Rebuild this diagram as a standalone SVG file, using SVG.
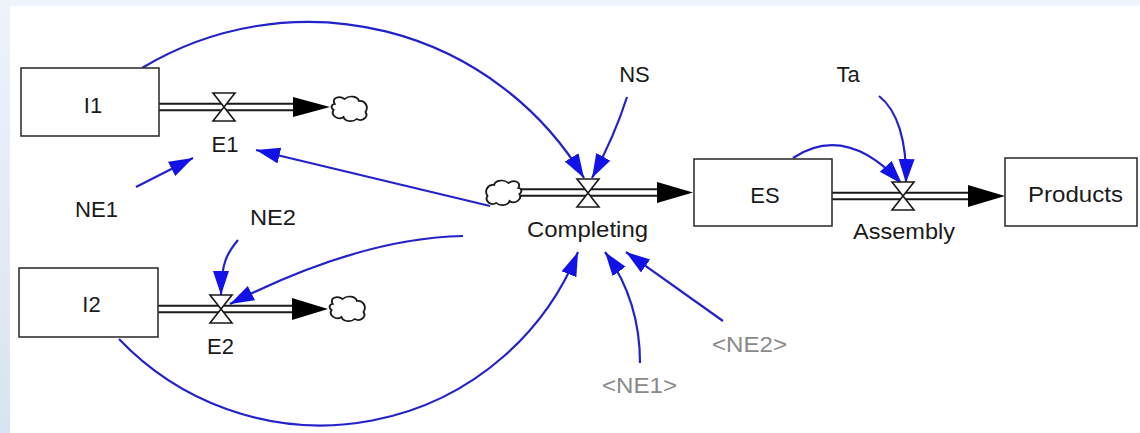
<svg xmlns="http://www.w3.org/2000/svg" width="1140" height="433" viewBox="0 0 1140 433">
  <defs>
    <style>
      .lbl { font-family: "Liberation Sans", Arial, sans-serif; font-size: 22px; fill: #1a1a1a; text-anchor: middle; }
      .shadow { fill: #8a8a8a; }
      .stock { fill: #ffffff; stroke: #333333; stroke-width: 1.6; }
      .pipe-out { fill: none; stroke: #1a1a1a; stroke-width: 8.5; }
      .pipe-in { fill: none; stroke: #ffffff; stroke-width: 4.5; }
      .valve { fill: #ffffff; stroke: #1a1a1a; stroke-width: 1.6; stroke-linejoin: miter; }
      .flowhead { fill: #000000; }
      .cloud { fill: #ffffff; stroke: #1a1a1a; stroke-width: 1.7; }
      .link { fill: none; stroke: #2222cc; stroke-width: 2.2; marker-end: url(#linkhead); }
    </style>
    <linearGradient id="edge" x1="0" y1="0" x2="0" y2="1">
      <stop offset="0" stop-color="#eef3fb"/>
      <stop offset="1" stop-color="#d9e3f1"/>
    </linearGradient>
    <marker id="linkhead" markerUnits="userSpaceOnUse" markerWidth="26" markerHeight="18" refX="24" refY="8" orient="auto">
      <path d="M0,0 L24,8 L0,16 Z" fill="#1212e8"/>
    </marker>
    <path id="valveShape" d="M-11,-14 L11,-14 L-11,14 L11,14 Z"/>
    <path id="cloudShape" d="M-13,-5 C-16,-11 -9,-14 -4,-10 C0,-14 8,-13 9,-8 C15,-9 18,-2 15,3 C18,8 12,13 7,10 C3,14 -4,12 -5,8 C-10,12 -17,6 -14,1 C-17,-1 -16,-5 -13,-5 Z"/>
  </defs>

  <!-- page background with pale frame strips -->
  <rect x="0" y="0" width="1140" height="433" fill="#ffffff"/>
  <rect x="0" y="0" width="1140" height="6" fill="#f0f4fc"/>
  <rect x="0" y="0" width="10" height="433" fill="url(#edge)"/>

  <!-- information links -->
  <g id="connectors">
    <path class="link" d="M142,68 A322,322 0 0,1 584,178"/>
    <path class="link" d="M627,97 Q615,135 592,178"/>
    <path class="link" d="M119,339 A278,278 0 0,0 578,252"/>
    <path class="link" d="M640,363 Q640,300 605,252"/>
    <path class="link" d="M723,321 L626,252"/>
    <path class="link" d="M136,187 L193,158"/>
    <path class="link" d="M490,206 L256,150"/>
    <path class="link" d="M463,236 Q360,238 230,304"/>
    <path class="link" d="M238,240 C228,252 221,262 221,295"/>
    <path class="link" d="M879,96 C897,110 907,140 906,183"/>
    <path class="link" d="M793,158 Q846,123 902,184"/>
  </g>

  <!-- flow E1: I1 to sink -->
  <g id="flow-E1">
    <path class="pipe-out" d="M159,107 L296,107"/>
    <path class="pipe-in" d="M159,107 L296,107"/>
    <polygon class="flowhead" points="293,97 330,107 293,117"/>
    <use href="#cloudShape" class="cloud" transform="translate(349,109) scale(1.1,1)"/>
    <use href="#valveShape" class="valve" transform="translate(224,107)"/>
    <text class="lbl" x="225" y="152">E1</text>
  </g>

  <!-- flow E2: I2 to sink -->
  <g id="flow-E2">
    <path class="pipe-out" d="M158,309 L295,309"/>
    <path class="pipe-in" d="M158,309 L295,309"/>
    <polygon class="flowhead" points="292,298 328,309 292,320"/>
    <use href="#cloudShape" class="cloud" transform="translate(347,309) scale(1.1,1)"/>
    <use href="#valveShape" class="valve" transform="translate(221,309)"/>
    <text class="lbl" x="220.5" y="354">E2</text>
  </g>

  <!-- flow Completing: source to ES -->
  <g id="flow-Completing">
    <path class="pipe-out" d="M520,192.5 L660,192.5"/>
    <path class="pipe-in" d="M520,192.5 L660,192.5"/>
    <polygon class="flowhead" points="657,182 693,192.5 657,203"/>
    <use href="#cloudShape" class="cloud" transform="translate(504,193) scale(-1.1,1)"/>
    <use href="#valveShape" class="valve" transform="translate(588,193)"/>
    <text class="lbl" x="587.5" y="237" textLength="121" lengthAdjust="spacingAndGlyphs">Completing</text>
  </g>

  <!-- flow Assembly: ES to Products -->
  <g id="flow-Assembly">
    <path class="pipe-out" d="M832,196 L971,196"/>
    <path class="pipe-in" d="M832,196 L971,196"/>
    <polygon class="flowhead" points="968,185 1005,196 968,207"/>
    <use href="#valveShape" class="valve" transform="translate(903,196)"/>
    <text class="lbl" x="904" y="239" textLength="102" lengthAdjust="spacingAndGlyphs">Assembly</text>
  </g>

  <!-- stocks -->
  <g id="stock-I1">
    <rect class="stock" x="21" y="68" width="138" height="68"/>
    <text class="lbl" x="93" y="113">I1</text>
  </g>
  <g id="stock-I2">
    <rect class="stock" x="19" y="268" width="139" height="69"/>
    <text class="lbl" x="91.5" y="312">I2</text>
  </g>
  <g id="stock-ES">
    <rect class="stock" x="694" y="159" width="138" height="67"/>
    <text class="lbl" x="765" y="203">ES</text>
  </g>
  <g id="stock-Products">
    <rect class="stock" x="1005" y="158" width="132" height="68"/>
    <text class="lbl" x="1075.5" y="202" textLength="95" lengthAdjust="spacingAndGlyphs">Products</text>
  </g>

  <!-- auxiliaries -->
  <g id="aux-NE1"><text class="lbl" x="96.5" y="217" textLength="43" lengthAdjust="spacingAndGlyphs">NE1</text></g>
  <g id="aux-NE2"><text class="lbl" x="273" y="225" textLength="46" lengthAdjust="spacingAndGlyphs">NE2</text></g>
  <g id="aux-NS"><text class="lbl" x="634.5" y="82">NS</text></g>
  <g id="aux-Ta"><text class="lbl" x="848" y="82">Ta</text></g>
  <g id="shadow-NE1"><text class="lbl shadow" x="639.5" y="393" textLength="75" lengthAdjust="spacingAndGlyphs">&lt;NE1&gt;</text></g>
  <g id="shadow-NE2"><text class="lbl shadow" x="749.5" y="352" textLength="75" lengthAdjust="spacingAndGlyphs">&lt;NE2&gt;</text></g>
</svg>
